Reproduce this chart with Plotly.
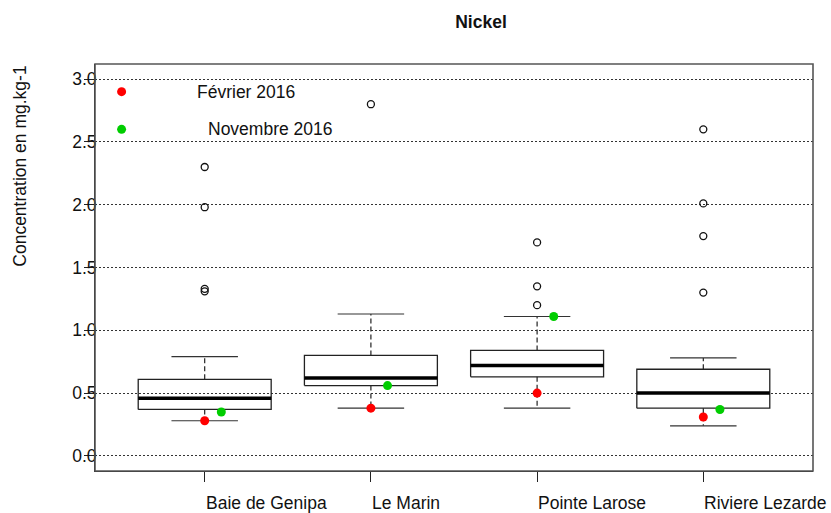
import plotly.graph_objects as go

# Nickel concentrations (mg/kg) per site: box-plot summary statistics
sites = ["Baie de Genipa", "Le Marin", "Pointe Larose", "Riviere Lezarde"]
lower_whisker = [0.28, 0.38, 0.38, 0.24]
q1 = [0.37, 0.56, 0.63, 0.38]
median = [0.46, 0.62, 0.72, 0.50]
q3 = [0.61, 0.80, 0.84, 0.69]
upper_whisker = [0.79, 1.13, 1.11, 0.78]
outliers = [
    [2.30, 1.98, 1.33, 1.31],
    [2.80],
    [1.70, 1.35, 1.20],
    [2.60, 2.01, 1.75, 1.30],
]
# Campaign measurements
fevrier_2016 = [0.28, 0.38, 0.50, 0.31]
novembre_2016 = [0.35, 0.56, 1.11, 0.37]

y_ticks = [0.0, 0.5, 1.0, 1.5, 2.0, 2.5, 3.0]
y_ticktext = ["0.0", "0.5", "1.0", "1.5", "2.0", "2.5", "3.0"]

FONT = "Liberation Sans, Arial, sans-serif"
BOX_HALF = 0.4
CAP_HALF = 0.2
NOV_OFFSET = 0.1

pos = [i + 1 for i in range(len(sites))]

box_x, box_y = [], []
med_x, med_y = [], []
wh_x, wh_y = [], []
cap_x, cap_y = [], []
out_x, out_y = [], []
for i, p in enumerate(pos):
    box_x += [p - BOX_HALF, p + BOX_HALF, p + BOX_HALF, p - BOX_HALF, p - BOX_HALF, None]
    box_y += [q1[i], q1[i], q3[i], q3[i], q1[i], None]
    med_x += [p - BOX_HALF, p + BOX_HALF, None]
    med_y += [median[i], median[i], None]
    wh_x += [p, p, None, p, p, None]
    wh_y += [q3[i], upper_whisker[i], None, q1[i], lower_whisker[i], None]
    cap_x += [p - CAP_HALF, p + CAP_HALF, None, p - CAP_HALF, p + CAP_HALF, None]
    cap_y += [upper_whisker[i], upper_whisker[i], None, lower_whisker[i], lower_whisker[i], None]
    for v in outliers[i]:
        out_x.append(p)
        out_y.append(v)

fig = go.Figure()

fig.add_trace(go.Scatter(x=wh_x, y=wh_y, mode="lines",
                         line=dict(color="#222", width=1.2, dash="5px,3px"),
                         hoverinfo="skip"))
fig.add_trace(go.Scatter(x=cap_x, y=cap_y, mode="lines",
                         line=dict(color="#333", width=1.2), hoverinfo="skip"))
fig.add_trace(go.Scatter(x=box_x, y=box_y, mode="lines",
                         line=dict(color="#222", width=1.3), hoverinfo="skip"))
fig.add_trace(go.Scatter(x=med_x, y=med_y, mode="lines",
                         line=dict(color="black", width=3.5), hoverinfo="skip"))
fig.add_trace(go.Scatter(x=out_x, y=out_y, mode="markers",
                         marker=dict(symbol="circle-open", size=7,
                                     color="#111", line=dict(width=1.3))))
fig.add_trace(go.Scatter(x=pos, y=fevrier_2016, mode="markers",
                         marker=dict(color="#FF0000", size=9)))
fig.add_trace(go.Scatter(x=[p + NOV_OFFSET for p in pos], y=novembre_2016, mode="markers",
                         marker=dict(color="#00CD00", size=9)))

# Legend markers and labels inside the plot area
fig.add_trace(go.Scatter(x=[0.5], y=[2.9], mode="markers",
                         marker=dict(color="#FF0000", size=9)))
fig.add_trace(go.Scatter(x=[0.5], y=[2.6], mode="markers",
                         marker=dict(color="#00CD00", size=9)))
fig.add_annotation(x=0.94, y=2.9, xref="x", yref="y", text="Février 2016",
                   showarrow=False, xanchor="left", yanchor="middle",
                   font=dict(family=FONT, size=17.5, color="#111"))
fig.add_annotation(x=1.01, y=2.6, xref="x", yref="y", text="Novembre 2016",
                   showarrow=False, xanchor="left", yanchor="middle",
                   font=dict(family=FONT, size=17.5, color="#111"))

# Site labels start at their tick
for p, s in zip(pos, sites):
    fig.add_annotation(x=p, y=0, xref="x", yref="paper", text=s,
                       showarrow=False, xanchor="left", yanchor="middle",
                       yshift=-32, xshift=-1,
                       font=dict(family=FONT, size=17.5, color="#111"))

fig.add_annotation(x=-0.1045, y=0.75, xref="paper", yref="paper",
                   text="Concentration en mg.kg-1", textangle=-90,
                   showarrow=False, xanchor="center", yanchor="middle",
                   font=dict(family=FONT, size=17.5, color="#111"))

# Plot frame
fig.add_shape(type="rect", xref="paper", yref="paper", x0=0, y0=0, x1=1, y1=1,
              line=dict(color="#555", width=1.6), layer="above")

fig.update_layout(
    width=831, height=513,
    margin=dict(l=95, r=18, t=64, b=42),
    paper_bgcolor="white", plot_bgcolor="white",
    showlegend=False,
    title=dict(text="<b>Nickel</b>", x=481 / 831, xref="container", xanchor="center",
               y=1 - 22 / 513, yref="container", yanchor="middle",
               font=dict(family=FONT, size=17.5, color="#111")),
    font=dict(family=FONT, color="#111"),
    xaxis=dict(range=[0.34, 4.66], tickvals=pos, showticklabels=False,
               ticks="outside", ticklen=10, tickcolor="#222", tickwidth=1,
               showgrid=False, zeroline=False, showline=True,
               linecolor="#222", linewidth=1),
    yaxis=dict(range=[-0.12, 3.12], tickvals=y_ticks, ticktext=y_ticktext,
               ticks="outside", ticklen=10, tickcolor="#222", tickwidth=1,
               ticklabelstandoff=-16,
               tickfont=dict(family=FONT, size=17.5, color="#111"),
               showgrid=True, gridcolor="#333", gridwidth=1, griddash="2px,2px",
               zeroline=False, showline=True, linecolor="#111", linewidth=1),
)

fig.write_html("out.html")
